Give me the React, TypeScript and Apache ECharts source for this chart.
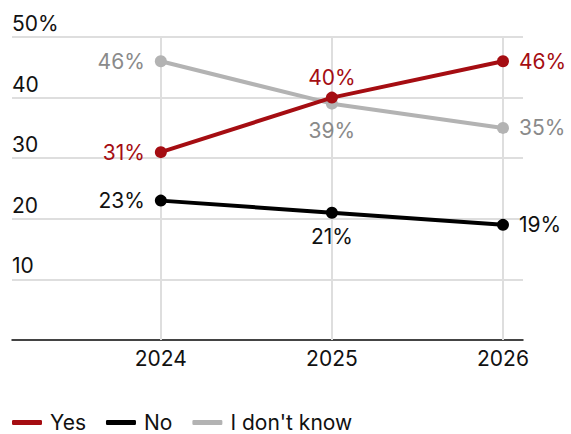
import React, { useEffect, useRef } from "react";
import * as echarts from "echarts";

const years = [2024, 2025, 2026];
const yesValues = [31, 40, 46];
const noValues = [23, 21, 19];
const dontKnowValues = [46, 39, 35];
const yTicks = [0, 10, 20, 30, 40, 50];

const yesLabelPos = ["left", "top", "right"];
const noLabelPos = ["left", "bottom", "right"];
const dkLabelPos = ["left", "bottom", "right"];

const RED = "#a50d12";
const BLACK = "#000000";
const GRAY = "#b3b3b3";
const GRAY_TEXT = "#8a8a8a";
const FONT = "Inter";
const FS = 21;

function buildSeries(name: string, values: number[], pos: string[], color: string, textColor: string, z: number, dists: number[]) {
  return {
    name,
    type: "line",
    z,
    data: values.map((v, i) => ({
      value: [years[i], v],
      label: { position: pos[i], distance: dists[i] },
    })),
    symbol: "circle",
    symbolSize: 12,
    lineStyle: { color, width: 4 },
    itemStyle: { color },
    label: {
      show: true,
      formatter: (p: any) => p.value[1] + "%",
      color: textColor,
      fontSize: FS,
      fontFamily: FONT,
    },
  };
}

export default function App() {
  const ref = useRef<HTMLDivElement>(null);
  useEffect(() => {
    if (!ref.current) return;
    const chart = echarts.init(ref.current, null, { renderer: "svg" });
    chart.setOption({
      animation: false,
      textStyle: { fontFamily: FONT },
      grid: { left: 12, right: 48, top: 37, bottom: 94, containLabel: false },
      legend: {
        top: 412,
        left: 12,
        padding: 0,
        data: ["Yes", "No", "I don't know"],
        icon: "roundRect",
        itemWidth: 30,
        itemHeight: 5,
        itemGap: 20,
        textStyle: { fontSize: FS, lineHeight: 21, padding: [0, 0, 0, 3], fontFamily: FONT, color: "#111" },
      },
      xAxis: {
        type: "value",
        min: 2023.13,
        max: 2026.117,
        splitLine: { show: false },
        axisTick: { show: false },
        axisLine: { show: true, lineStyle: { color: "#111", width: 1.5 } },
        axisLabel: {
          customValues: years,
          formatter: (v: number) => String(v),
          fontSize: FS,
          fontFamily: FONT,
          color: "#111",
          margin: 8,
        },
      },
      yAxis: {
        type: "value",
        min: 0,
        max: 50,
        interval: 10,
        axisLine: { show: false },
        axisTick: { show: false },
        splitLine: { show: true, lineStyle: { color: "#dedede", width: 2 } },
        axisLabel: {
          inside: true,
          align: "left",
          verticalAlign: "bottom",
          margin: 0,
          padding: [0, 0, 3, 0],
          fontSize: FS,
          fontFamily: FONT,
          color: "#111",
          formatter: (v: number) => (v === 50 ? "50%" : v === 0 ? "" : String(v)),
          customValues: yTicks.filter((t) => t > 0),
        },
      },
      series: [
        {
          ...buildSeries("I don't know", dontKnowValues, dkLabelPos, GRAY, GRAY_TEXT, 2, [10, 10, 10]),
          markLine: {
            silent: true,
            symbol: "none",
            label: { show: false },
            lineStyle: { color: "#dedede", width: 2, type: "solid" },
            data: years.map((y) => ({ xAxis: y })),
            z: 1,
          },
        },
        buildSeries("No", noValues, noLabelPos, BLACK, "#111", 3, [10, 7, 10]),
        buildSeries("Yes", yesValues, yesLabelPos, RED, RED, 4, [10, 4, 10]),
      ],
    });
    return () => chart.dispose();
  }, []);
  return <div ref={ref} style={{ width: 571, height: 434, position: "absolute", left: 0, top: 0 }} />;
}
